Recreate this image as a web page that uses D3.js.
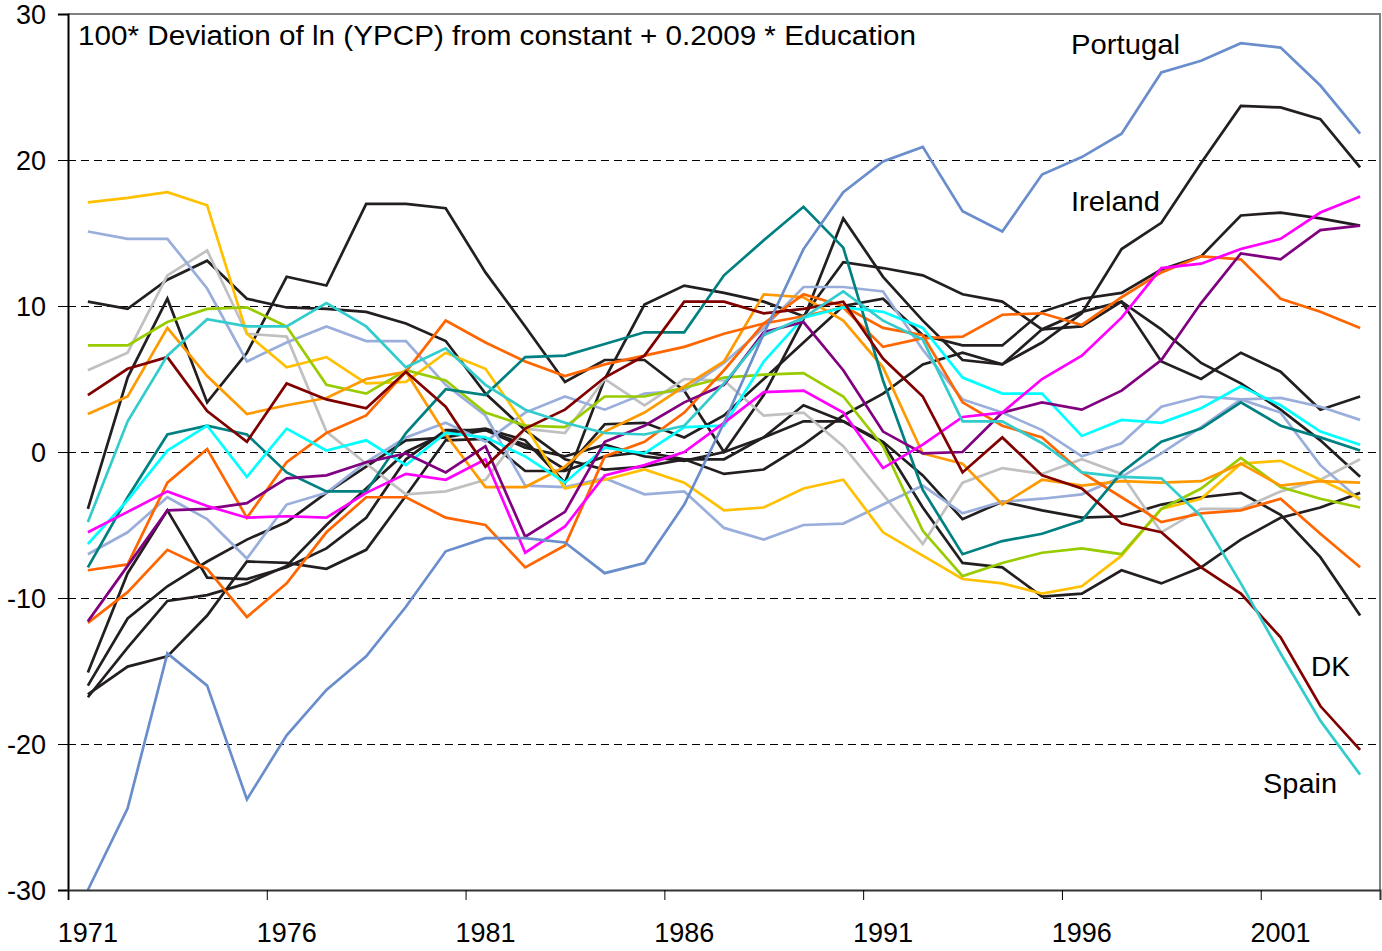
<!DOCTYPE html>
<html>
<head>
<meta charset="utf-8">
<script src="https://cdn.jsdelivr.net/npm/d3@7"></script>
<style>
  html, body { margin: 0; padding: 0; background: #fff; }
  svg { display: block; font-family: Arial, "Liberation Sans", sans-serif; }
</style>
</head>
<body>
<svg id="chart" width="1382" height="951"></svg>
<script>
// years on the category axis
var years = [1971, 1972, 1973, 1974, 1975, 1976, 1977, 1978, 1979, 1980, 1981,
  1982, 1983, 1984, 1985, 1986, 1987, 1988, 1989, 1990, 1991, 1992, 1993, 1994,
  1995, 1996, 1997, 1998, 1999, 2000, 2001, 2002, 2003];
var labelYears = [1971, 1976, 1981, 1986, 1991, 1996, 2001];
var yTicks = [-30, -20, -10, 0, 10, 20, 30];
var gridTicks = [-20, -10, 0, 10, 20];

// series
var portugal = [-30.0, -24.4, -13.8, -16.0, -23.8, -19.4, -16.3, -14.0, -10.6, -6.8, -5.9, -5.9, -6.2, -8.3, -7.6, -3.6, 2.0, 8.1, 13.9, 17.8, 19.9, 20.9, 16.5, 15.1, 19.0, 20.2, 21.8, 26.0, 26.8, 28.0, 27.7, 25.1, 21.8];
var ireland = [-16.6, -14.7, -14.0, -11.2, -7.5, -7.6, -8.0, -6.7, -3.0, 0.8, 0.9, -1.3, -1.3, -0.3, 0.0, -0.5, -1.5, -1.2, 0.5, 2.5, 4.0, 6.0, 6.8, 6.0, 7.5, 9.5, 13.9, 15.7, 19.8, 23.7, 23.6, 22.8, 19.5];
var dk = [3.9, 5.7, 6.5, 2.8, 0.7, 4.7, 3.6, 3.0, 5.5, 3.1, -1.0, 1.6, 2.9, 5.1, 6.6, 10.3, 10.3, 9.5, 9.8, 10.3, 6.4, 3.8, -1.4, 1.0, -1.6, -2.5, -4.9, -5.5, -7.9, -9.7, -12.7, -17.4, -20.4];
var spain = [-4.8, 2.1, 6.6, 9.1, 8.6, 8.6, 10.2, 8.6, 5.8, 7.1, 4.6, 2.9, 2.0, 1.3, 1.2, 1.8, 4.7, 8.0, 9.2, 11.0, 9.0, 7.7, 2.1, 2.1, 0.6, -1.4, -1.7, -1.8, -4.4, -9.0, -13.8, -18.4, -22.1];
var yellowS = [17.1, 17.4, 17.8, 16.9, 8.1, 5.8, 6.5, 4.7, 4.8, 6.8, 5.7, 1.8, -2.5, -1.9, -1.2, -2.1, -4.0, -3.8, -2.5, -1.9, -5.5, -7.1, -8.7, -9.0, -9.7, -9.2, -7.1, -3.9, -3.2, -0.8, -0.6, -1.9, -3.2];
var lavenderA = [15.1, 14.6, 14.6, 11.2, 6.2, 7.5, 8.6, 7.6, 7.6, 4.6, 2.5, -2.3, -2.4, -1.8, -2.9, -2.7, -5.2, -6.0, -5.0, -4.9, -3.6, -2.3, -4.2, -3.4, -3.2, -2.9, -1.7, -0.1, 1.7, 3.6, 2.7, -0.9, -3.3];
var lavenderB = [-7.0, -5.5, -3.1, -4.6, -7.3, -3.6, -2.8, -0.7, 1.0, 2.0, 0.7, 2.7, 3.8, 2.9, 4.0, 4.2, 6.1, 8.5, 11.3, 11.3, 11.0, 7.0, 3.6, 2.7, 1.5, -0.3, 0.6, 3.1, 3.8, 3.6, 3.7, 3.1, 2.2];
var grayS = [5.6, 6.8, 12.1, 13.8, 8.1, 7.9, 1.4, -0.8, -2.9, -2.7, -1.9, 1.6, 1.3, 5.0, 3.2, 5.0, 4.9, 2.5, 2.7, 0.4, -2.9, -6.3, -2.1, -1.1, -1.5, -0.5, -1.5, -5.5, -3.9, -3.9, -2.7, -1.9, -0.5];
var greenS = [7.3, 7.3, 8.9, 9.8, 9.9, 8.6, 4.6, 4.0, 5.6, 4.9, 2.7, 1.8, 1.7, 3.8, 3.8, 4.4, 5.1, 5.3, 5.4, 3.8, 0.4, -5.4, -8.5, -7.6, -6.9, -6.6, -7.0, -3.9, -2.5, -0.4, -2.4, -3.2, -3.8];
var amberS = [2.6, 3.8, 8.5, 5.2, 2.6, 3.2, 3.7, 5.0, 5.5, 1.2, -2.4, -2.4, -1.0, 1.4, 2.7, 4.5, 6.2, 10.8, 10.6, 9.0, 5.8, -0.1, -0.8, -3.6, -1.9, -2.3, -2.0, -2.1, -2.0, -0.8, -2.3, -2.0, -2.1];
var tealS = [-7.9, -3.1, 1.2, 1.8, 1.2, -1.4, -2.7, -2.7, 1.3, 4.3, 3.9, 6.5, 6.6, 7.4, 8.2, 8.2, 12.1, 14.5, 16.8, 14.0, 4.9, -2.6, -7.0, -6.1, -5.6, -4.7, -1.4, 0.7, 1.6, 3.4, 1.8, 1.0, 0.1];
var cyanS = [-6.3, -3.3, 0.1, 1.8, -1.7, 1.6, 0.1, 0.8, -0.9, 1.3, 1.0, -0.3, -2.1, 0.3, -0.1, 1.7, 1.8, 6.2, 9.2, 9.9, 9.6, 8.5, 5.1, 4.0, 4.0, 1.1, 2.2, 2.0, 3.0, 4.5, 3.2, 1.4, 0.5];
var magentaS = [-5.5, -4.1, -2.7, -3.7, -4.5, -4.4, -4.5, -2.8, -1.5, -1.9, -0.5, -6.9, -5.1, -1.6, -0.9, 0.0, 2.0, 4.1, 4.2, 2.7, -1.1, 0.5, 2.4, 2.7, 5.0, 6.6, 9.2, 12.6, 12.9, 13.9, 14.6, 16.4, 17.5];
var purpleS = [-11.6, -7.8, -4.0, -3.9, -3.5, -1.8, -1.6, -0.7, -0.1, -1.4, 0.4, -5.8, -4.1, 0.7, 1.8, 3.4, 4.6, 8.2, 8.9, 5.6, 1.4, -0.1, 0.0, 2.7, 3.4, 2.9, 4.2, 6.3, 10.2, 13.6, 13.2, 15.2, 15.5];
var orangeA = [-8.1, -7.7, -2.1, 0.2, -4.5, -0.7, 1.3, 2.5, 5.5, 9.0, 7.5, 6.2, 5.2, 6.0, 6.6, 7.2, 8.1, 8.8, 9.3, 9.9, 7.2, 7.8, 7.9, 9.4, 9.5, 8.7, 10.6, 12.3, 13.4, 13.2, 10.5, 9.6, 8.5];
var orangeB = [-11.7, -9.6, -6.7, -8.0, -11.3, -9.0, -5.5, -3.1, -3.1, -4.5, -5.0, -7.9, -6.4, -0.3, 0.7, 2.7, 5.6, 8.8, 10.8, 10.0, 8.5, 8.0, 3.4, 1.8, 1.0, -1.4, -3.1, -4.8, -4.2, -4.0, -3.2, -5.6, -7.9];
var blackN = [-16.0, -11.4, -9.2, -7.5, -6.0, -4.8, -2.8, -1.0, 0.8, 1.0, 1.5, 0.5, -1.2, 1.9, 2.0, 1.0, 2.5, 5.0, 7.5, 10.0, 10.5, 8.0, 7.3, 7.3, 9.6, 10.5, 10.9, 12.5, 13.4, 16.2, 16.4, 16.0, 15.5];
var blackF = [-15.1, -8.3, -4.0, -8.6, -8.7, -7.9, -6.6, -4.5, -0.5, 1.5, 1.5, 0.3, -0.3, 0.5, -0.3, -0.6, 0.0, 3.9, 9.1, 16.0, 12.0, 9.0, 6.3, 6.0, 8.4, 8.6, 10.3, 6.2, 5.0, 6.8, 5.5, 2.9, 3.8];
var blackS = [-16.8, -13.4, -10.2, -9.8, -9.0, -7.8, -5.0, -2.5, 0.0, 1.3, 1.6, 0.8, -2.1, 5.0, 10.1, 11.4, 10.9, 10.3, 9.3, 13.0, 12.6, 12.1, 10.8, 10.3, 8.4, 9.6, 10.3, 8.4, 6.1, 4.7, 2.9, 0.8, -1.7];
var blackA = [10.3, 9.8, 11.8, 13.1, 10.5, 9.9, 9.8, 9.6, 8.8, 7.6, 4.0, 1.5, -0.5, -1.2, -1.0, -0.5, -0.5, 1.0, 2.1, 2.1, 0.6, -3.8, -7.6, -7.9, -9.9, -9.7, -8.1, -9.0, -7.9, -6.0, -4.5, -3.8, -2.8];
var blackP = [-3.9, 5.1, 10.5, 3.4, 6.8, 12.0, 11.4, 17.0, 17.0, 16.7, 12.3, 8.6, 4.8, 6.3, 6.3, 4.2, 0.0, 1.0, 3.2, 2.1, 0.7, -1.6, -4.6, -3.4, -4.0, -4.5, -4.4, -3.6, -3.1, -2.8, -4.3, -7.2, -11.2];

var series = [
  { v: blackA, c: "#231f20" }, { v: blackP, c: "#231f20" },
  { v: blackN, c: "#231f20" }, { v: blackF, c: "#231f20" },
  { v: blackS, c: "#231f20" }, { v: ireland, c: "#231f20" },
  { v: grayS, c: "#c0c0c0" }, { v: lavenderA, c: "#9aaedb" },
  { v: lavenderB, c: "#9aaedb" }, { v: yellowS, c: "#ffc000" },
  { v: greenS, c: "#99cc00" }, { v: amberS, c: "#ff9900" },
  { v: orangeB, c: "#ff6600" }, { v: orangeA, c: "#ff6600" },
  { v: tealS, c: "#008080" }, { v: cyanS, c: "#00ffff" },
  { v: purpleS, c: "#800080" }, { v: magentaS, c: "#ff00ff" },
  { v: dk, c: "#800000" }, { v: spain, c: "#33cccc" },
  { v: portugal, c: "#6a8dcc" }
];

var L = 68, R = 1380, T = 14, B = 890;
var svg = d3.select("#chart");
var x = d3.scaleLinear().domain([years[0] - 0.5, years[years.length - 1] + 0.5]).range([L, R]);
var y = d3.scaleLinear().domain([-30, 30]).range([B, T]);
function crisp(v) { return Math.round(v) + 0.5; }

// dashed gridlines
svg.append("g").selectAll("line").data(gridTicks).enter().append("line")
  .attr("x1", L).attr("x2", R)
  .attr("y1", function (d) { return crisp(y(d)); }).attr("y2", function (d) { return crisp(y(d)); })
  .attr("stroke", "#000").attr("stroke-width", 1).attr("stroke-dasharray", "8,5");

// frame: top/right grey
svg.append("path").attr("d", "M" + L + "," + T + "H" + R + "V" + B)
  .attr("fill", "none").attr("stroke", "#808080").attr("stroke-width", 2);

// lines
var line = d3.line()
  .x(function (d, i) { return x(years[i]); })
  .y(function (d) { return y(d); });
svg.append("g").selectAll("path").data(series).enter().append("path")
  .attr("d", function (s) { return line(s.v); })
  .attr("fill", "none").attr("stroke", function (s) { return s.c; })
  .attr("stroke-width", 2.7).attr("stroke-linejoin", "miter");

// y axis
var ay = svg.append("g").attr("transform", "translate(" + L + ",0)")
  .call(d3.axisLeft(y).tickValues(yTicks).tickSize(10).tickPadding(12)
    .tickFormat(function (d) { return String(d); }));
ay.select(".domain").attr("stroke", "#000").attr("stroke-width", 2);
ay.selectAll(".tick line").attr("stroke", "#000").attr("stroke-width", 1);
ay.selectAll("text").attr("fill", "#000").style("font-size", "27px")
  .style("font-family", "Arial, 'Liberation Sans', sans-serif").attr("dy", "0.35em");

// x axis: ticks at category boundaries every 5 years, labels centred
var ax = svg.append("g").attr("transform", "translate(0," + B + ")")
  .call(d3.axisBottom(x).tickValues(labelYears.map(function (d) { return d - 0.5; }))
    .tickSize(10).tickFormat(""));
ax.select(".domain").attr("stroke", "#333").attr("stroke-width", 2);
ax.selectAll(".tick line").attr("stroke", "#000");
svg.append("g").selectAll("text").data(labelYears).enter().append("text")
  .attr("x", function (d) { return x(d); }).attr("y", 942)
  .attr("text-anchor", "middle").style("font-size", "27px").attr("fill", "#000")
  .text(function (d) { return d; });

// title and country labels
svg.append("text").attr("x", 78).attr("y", 45).style("font-size", "27px")
  .attr("textLength", 838).attr("lengthAdjust", "spacingAndGlyphs")
  .text("100* Deviation of ln (YPCP) from constant + 0.2009 * Education");
var notes = [
  { t: "Portugal", x: 1071, y: 54, w: 109 }, { t: "Ireland", x: 1071, y: 211, w: 89 },
  { t: "DK", x: 1311, y: 676, w: 39 }, { t: "Spain", x: 1263, y: 793, w: 74 }
];
svg.append("g").selectAll("text").data(notes).enter().append("text")
  .attr("x", function (d) { return d.x; }).attr("y", function (d) { return d.y; })
  .attr("textLength", function (d) { return d.w; }).attr("lengthAdjust", "spacingAndGlyphs")
  .style("font-size", "28px").text(function (d) { return d.t; });
</script>
</body>
</html>
